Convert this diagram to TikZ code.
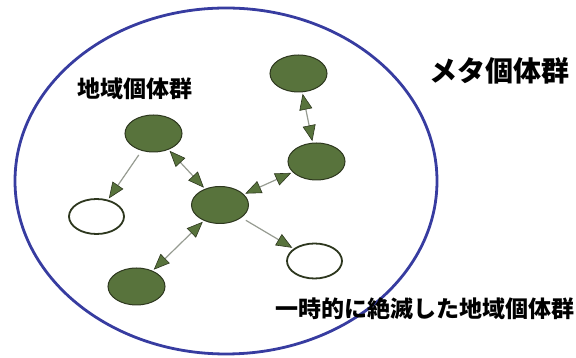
\documentclass[tikz,border=0pt]{standalone}
\usepackage{fontspec}
\newfontfamily\jp{Noto Sans CJK JP}
\usetikzlibrary{arrows.meta,shapes.geometric}

\definecolor{popgreen}{RGB}{88,115,60}
\definecolor{popline}{RGB}{45,55,30}
\definecolor{metablue}{RGB}{55,60,160}
\definecolor{linkgray}{RGB}{150,155,145}

\begin{document}
\begin{tikzpicture}[x=1pt,y=1pt,>={Triangle[length=16pt,width=13pt,color=popline,fill=popgreen,line width=0.6pt]},
                    pop node/.style={ellipse,draw=popline,fill=popgreen,line width=1pt,
                                     minimum width=57pt,minimum height=37pt,inner sep=0pt},
                    gone node/.style={ellipse,draw=popline,fill=white,line width=1.8pt,
                                      minimum width=55pt,minimum height=35pt,inner sep=0pt},
                    link/.style={draw=linkgray,line width=1.2pt,shorten >=1.5pt,shorten <=1.5pt},
                    jp text/.style={font=\jp\bfseries\fontsize{23}{23}\selectfont}]

  \useasboundingbox (0,0) rectangle (576,358);

  % metapopulation boundary
  \draw[metablue,line width=2.8pt] (226,177) ellipse [x radius=211,y radius=173];

  \node[pop node] (top) at (298.5,284.5) {};
  \node[pop node] (local) at (153.5,224.5) {};
  \node[pop node] (right) at (316.5,196.5) {};
  \node[pop node] (hub) at (220,153) {};
  \node[pop node] (low) at (136.5,71.5) {};
  \node[gone node] (gone1) at (96.5,141.5) {};
  \node[gone node] (gone2) at (314.5,97) {};

  \node[jp text] (localtext) at (135,269) {地域個体群};
  \node[jp text,font=\jp\bfseries\fontsize{28}{28}\selectfont] (metatext) at (499,287) {メタ個体群};
  \node[jp text] (gonetext) at (425,49) {一時的に絶滅した地域個体群};

  \path[every edge/.style=link]
    (top) edge[<->] (right)
    (local) edge[<->] (hub)
    (right) edge[<->] (hub)
    (hub) edge[<->] (low)
    (local) edge[->,shorten <=5pt] (gone1)
    (hub) edge[->,shorten <=5pt] (gone2);

\end{tikzpicture}
\end{document}
